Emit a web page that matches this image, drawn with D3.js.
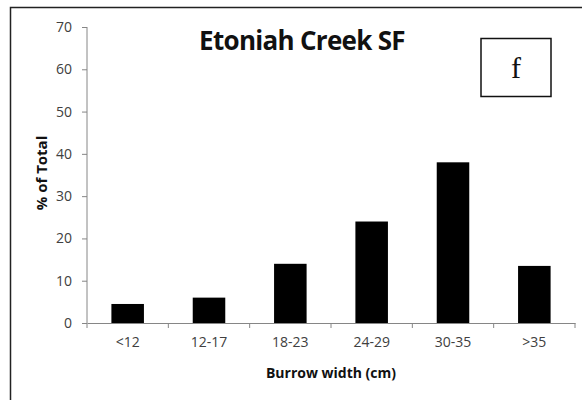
<!DOCTYPE html>
<html>
<head>
<meta charset="utf-8">
<script src="https://cdn.jsdelivr.net/npm/d3@7"></script>
<style>
  html, body { margin: 0; padding: 0; background: #fff; overflow: hidden; }
  svg { display: block; }
</style>
</head>
<body>
<div id="chart"></div>
<script>
var categories = ["<12", "12-17", "18-23", "24-29", "30-35", ">35"];
var values = [4.5, 6, 14, 24, 38, 13.5];
var yTicks = [0, 10, 20, 30, 40, 50, 60, 70];

var width = 582, height = 400;
var margin = {left: 87, right: 7, top: 27, bottom: 77};

var svg = d3.select("#chart").append("svg")
    .attr("width", width)
    .attr("height", height);

svg.append("rect")
    .attr("width", width).attr("height", height)
    .attr("fill", "#fff");

var x = d3.scaleBand()
    .domain(categories)
    .range([margin.left, width - margin.right])
    .paddingInner(0.6)
    .paddingOuter(0.3);

var y = d3.scaleLinear()
    .domain([0, 70])
    .range([height - margin.bottom, margin.top]);

// bars
svg.selectAll(".bar")
    .data(values)
  .enter().append("rect")
    .attr("class", "bar")
    .attr("x", function(d, i) { return x(categories[i]); })
    .attr("y", function(d) { return y(d); })
    .attr("width", x.bandwidth())
    .attr("height", function(d) { return y(0) - y(d); })
    .attr("fill", "#000");

// y axis
var yAxis = svg.append("g")
    .attr("transform", "translate(" + margin.left + ",0)")
    .call(d3.axisLeft(y).tickValues(yTicks).tickSize(5).tickPadding(10));

// x axis: ticks sit between the categories
var xAxis = svg.append("g")
    .attr("transform", "translate(0," + y(0) + ")")
    .call(d3.axisBottom(x).tickSizeInner(0).tickSizeOuter(0).tickPadding(14));

var step = x.step();
var bounds = d3.range(categories.length + 1).map(function(i) { return margin.left + i * step; });
xAxis.selectAll(".sep")
    .data(bounds)
  .enter().append("line")
    .attr("class", "sep")
    .attr("x1", function(d) { return d; })
    .attr("x2", function(d) { return d; })
    .attr("y1", 0).attr("y2", 5)
    .attr("stroke", "#868686");

[yAxis, xAxis].forEach(function(g) {
  g.select(".domain").attr("stroke", "#868686");
  g.selectAll(".tick line").attr("stroke", "#868686");
  g.selectAll("text")
      .attr("fill", "#404040")
      .style("font-family", "'Open Sans', sans-serif")
      .style("font-size", "14px");
});
yAxis.select(".domain").attr("d", "M0," + y(70) + "V" + y(0));

// title
svg.append("text")
    .attr("x", 302).attr("y", 50)
    .attr("text-anchor", "middle")
    .style("font-family", "'Open Sans', sans-serif")
    .style("font-weight", "bold")
    .style("font-size", "26px")
    .style("letter-spacing", "-0.7px")
    .attr("fill", "#111")
    .text("Etoniah Creek SF");

// panel letter box
svg.append("rect")
    .attr("x", 481).attr("y", 38.5)
    .attr("width", 70).attr("height", 58)
    .attr("fill", "#fff")
    .attr("stroke", "#111")
    .attr("stroke-width", 1.5);
svg.append("text")
    .attr("x", 516).attr("y", 78)
    .attr("text-anchor", "middle")
    .style("font-family", "'Liberation Serif', serif")
    .style("font-size", "30px")
    .attr("fill", "#111")
    .text("f");

// axis titles
svg.append("text")
    .attr("transform", "translate(47,173) rotate(-90)")
    .attr("text-anchor", "middle")
    .style("font-family", "'Open Sans', sans-serif")
    .style("font-weight", "bold")
    .style("font-size", "15px")
    .attr("fill", "#111")
    .text("% of Total");

svg.append("text")
    .attr("x", 331).attr("y", 378)
    .attr("text-anchor", "middle")
    .style("font-family", "'Open Sans', sans-serif")
    .style("font-weight", "bold")
    .style("font-size", "14px")
    .attr("fill", "#111")
    .text("Burrow width (cm)");

// outer frame: only the top and left edges fall inside the picture
svg.append("path")
    .attr("d", "M10.5,400V7.5H582")
    .attr("fill", "none")
    .attr("stroke", "#222")
    .attr("stroke-width", 1.5);
</script>
</body>
</html>
